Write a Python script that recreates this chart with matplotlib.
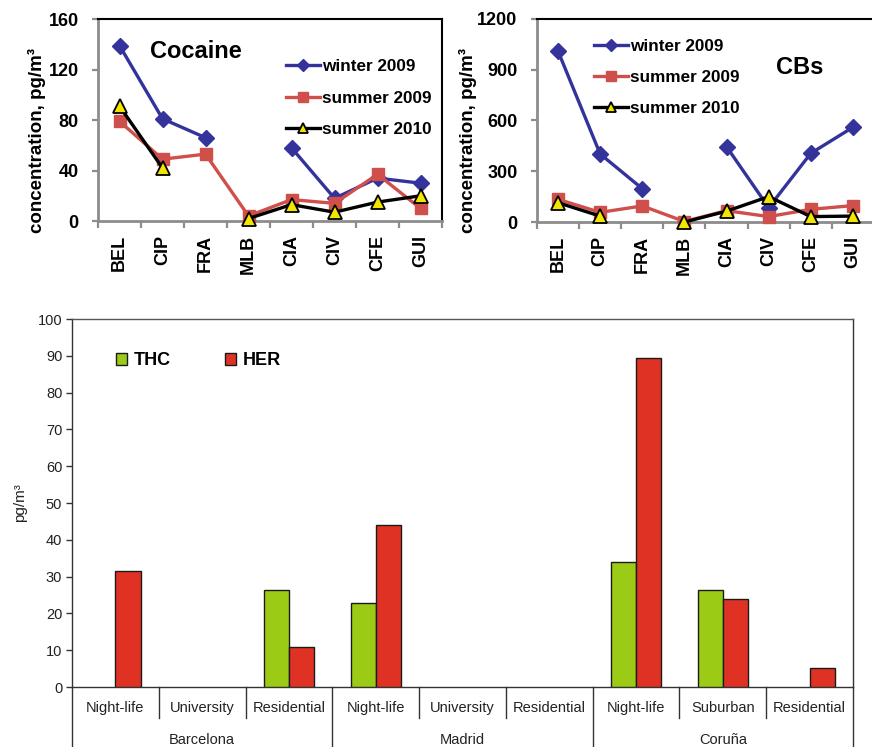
import numpy as np
import matplotlib
matplotlib.use("Agg")
import matplotlib.pyplot as plt
from matplotlib.transforms import blended_transform_factory

plt.rcParams["font.family"] = ["Liberation Sans", "DejaVu Sans"]

# ---- data -------------------------------------------------------------
sites = ["BEL", "CIP", "FRA", "MLB", "CIA", "CIV", "CFE", "GUI"]
series_names = ["winter 2009", "summer 2009", "summer 2010"]

cocaine_winter09 = [139, 81, 66, np.nan, 58, 18, 34, 30]
cocaine_summer09 = [79, 49, 53, 4, 17, 14, 37, 10]
cocaine_summer10 = [91, 42, np.nan, 2, 13, 7, 15, 20]

cbs_winter09 = [1010, 402, 197, np.nan, 445, 85, 406, 560]
cbs_summer09 = [134, 57, 95, 3, 67, 32, 75, 97]
cbs_summer10 = [114, 35, np.nan, 0, 64, 150, 32, 35]

cocaine_ticks = [0, 40, 80, 120, 160]
cbs_ticks = [0, 300, 600, 900, 1200]

zones = ["Night-life", "University", "Residential",
         "Night-life", "University", "Residential",
         "Night-life", "Suburban", "Residential"]
cities = ["Barcelona", "Madrid", "Coruña"]
zones_per_city = [3, 3, 3]
thc = [np.nan, np.nan, 26.3, 22.8, np.nan, np.nan, 34.1, 26.3, np.nan]
her = [31.6, np.nan, 11.0, 44.0, np.nan, np.nan, 89.4, 23.8, 5.1]
bar_ticks = list(range(0, 101, 10))

# ---- styles -----------------------------------------------------------
styles = [
    dict(color="#34339b", marker="D", markersize=8, markerfacecolor="#34339b",
         markeredgecolor="#34339b"),
    dict(color="#cf4f4b", marker="s", markersize=9, markerfacecolor="#cf4f4b",
         markeredgecolor="#cf4f4b"),
    dict(color="#000000", marker="^", markersize=10, markerfacecolor="#f2e600",
         markeredgecolor="#000000", markeredgewidth=1.3),
]

fig = plt.figure(figsize=(8.72, 7.47), dpi=100)


def line_panel(rect, series, ticks, title, title_xy, leg_xy):
    ax = fig.add_axes(rect)
    x = np.arange(len(sites))
    handles = []
    for vals, name, st in zip(series, series_names, styles):
        h, = ax.plot(x, vals, lw=2.4, label=name, zorder=3, clip_on=False, **st)
        handles.append(h)
    ax.set_xlim(-0.5, len(sites) - 0.5)
    ax.set_ylim(ticks[0], ticks[-1])
    ax.set_yticks(ticks)
    ax.set_yticklabels([str(t) for t in ticks], fontsize=13, fontweight="bold")
    ax.set_xticks(x)
    ax.set_xticklabels(sites, rotation=90, fontsize=13, fontweight="bold",
                       va="top", ha="center")
    ax.set_xticks(np.arange(len(sites) + 1) - 0.5, minor=True)
    ax.tick_params(axis="x", which="major", length=0, pad=10)
    ax.tick_params(axis="x", which="minor", length=5, width=1.6, color="#8c8c8c")
    ax.tick_params(axis="y", length=4, width=1.6, color="#8c8c8c", pad=10)
    for s in ("left", "bottom"):
        ax.spines[s].set_color("#8c8c8c")
        ax.spines[s].set_linewidth(2)
    for s in ("top", "right"):
        ax.spines[s].set_color("#000000")
        ax.spines[s].set_linewidth(1.5)
    ax.set_ylabel("concentration, pg/m³", fontsize=13.5, fontweight="bold")
    ax.text(title_xy[0], title_xy[1], title, transform=ax.transAxes,
            fontsize=17, fontweight="bold", ha="center", va="center")
    ax.legend(handles=handles, loc="center left", bbox_to_anchor=leg_xy,
              frameon=False, prop=dict(size=12.3, weight="bold"),
              handlelength=2.0, handletextpad=0.1, labelspacing=0.95,
              borderpad=0, borderaxespad=0, markerscale=0.75)
    return ax


ax1 = line_panel([0.1124, 0.7041, 0.3945, 0.2704],
                 [cocaine_winter09, cocaine_summer09, cocaine_summer10],
                 cocaine_ticks, "Cocaine", (0.285, 0.84), (0.547, 0.609))
ax1.yaxis.set_label_coords(-0.15, 0.40)

ax2 = line_panel([0.6158, 0.7028, 0.3865, 0.2718],
                 [cbs_winter09, cbs_summer09, cbs_summer10],
                 cbs_ticks, "CBs", (0.78, 0.763), (0.169, 0.712))
ax2.yaxis.set_label_coords(-0.177, 0.40)

# ---- bar chart --------------------------------------------------------
ax3 = fig.add_axes([0.0826, 0.0803, 0.8956, 0.4926])
xb = np.arange(len(zones))
w = 0.29
b1 = ax3.bar(xb - w / 2, thc, width=w, color="#9bcb14", edgecolor="#1a1a1a",
             linewidth=1.0, label="THC", zorder=3)
b2 = ax3.bar(xb + w / 2, her, width=w, color="#e03224", edgecolor="#1a1a1a",
             linewidth=1.0, label="HER", zorder=3)
ax3.set_xlim(-0.5, len(zones) - 0.5)
ax3.set_ylim(bar_ticks[0], bar_ticks[-1])
ax3.set_yticks(bar_ticks)
ax3.tick_params(axis="y", length=4, width=1, color="#333333", pad=3,
                labelsize=10.5, labelcolor="#222222")
ax3.set_xticks([])
for s in ax3.spines.values():
    s.set_linewidth(1.0)
    s.set_color("#333333")
ax3.spines["top"].set_color("#555555")
ax3.set_ylabel("pg/m³", fontsize=11, color="#222222")
ax3.yaxis.set_label_coords(-0.058, 0.50)

trans = blended_transform_factory(ax3.transData, ax3.transAxes)
for i, z in enumerate(zones):
    ax3.text(i, -0.057, z, transform=trans, ha="center", va="center",
             fontsize=10.5, color="#222222")

# divider lines between zones (short) and between cities (long)
city_edges = np.cumsum([0] + zones_per_city) - 0.5
for i in range(len(zones) + 1):
    xe = i - 0.5
    bottom = -0.163 if xe in city_edges else -0.085
    ax3.plot([xe, xe], [0, bottom], transform=trans, color="#333333",
             lw=1.0, clip_on=False)

start = 0
for city, n in zip(cities, zones_per_city):
    ax3.text(start + (n - 1) / 2, -0.144, city, transform=trans, ha="center",
             va="center", fontsize=10.5, color="#222222")
    start += n

ax3.legend(handles=[b1, b2], loc="center left", bbox_to_anchor=(0.0563, 0.886),
           ncol=2, frameon=False, prop=dict(size=13, weight="bold"),
           handlelength=0.62, handleheight=0.62, handletextpad=0.35,
           columnspacing=3.0, borderpad=0, borderaxespad=0)

fig.savefig("out.png", dpi=100)
